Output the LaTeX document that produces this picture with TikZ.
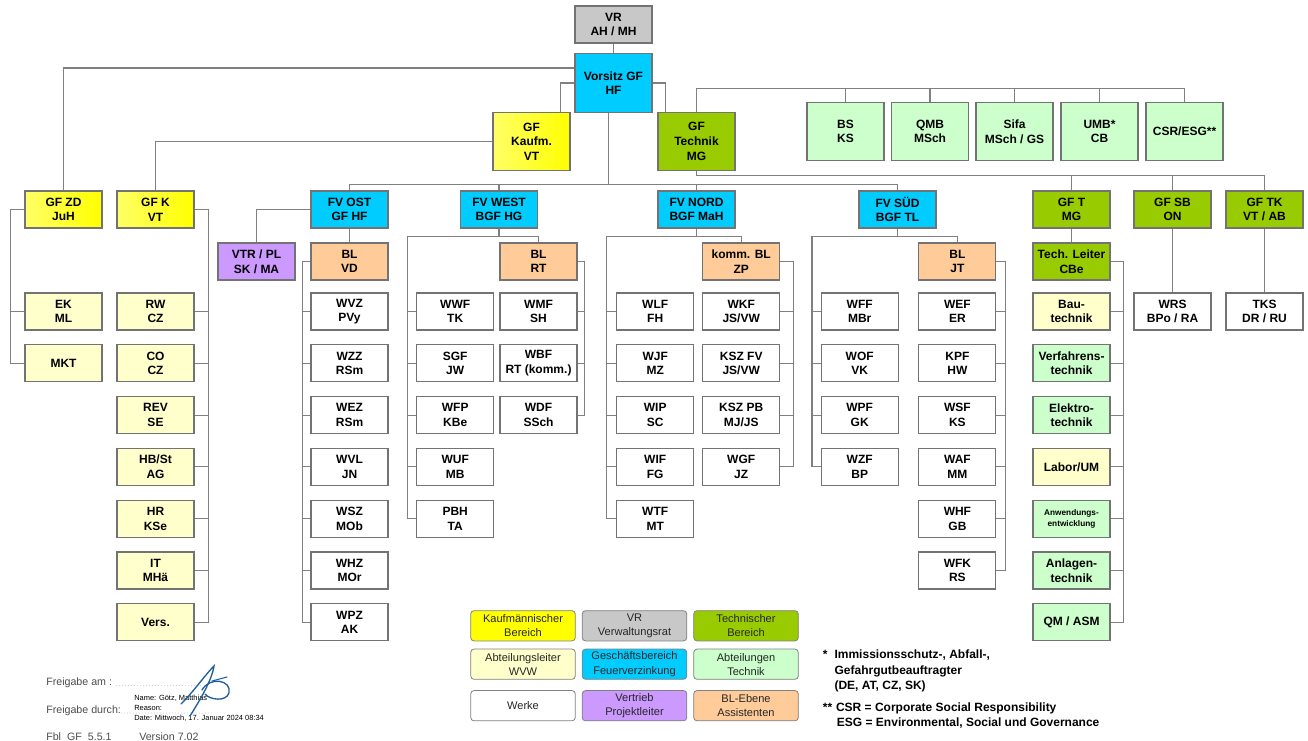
\documentclass[tikz,border=0pt]{standalone}
\usepackage{fontspec}
\setmainfont{Liberation Sans}
\usepackage{xcolor}
\usepackage{tikz}
\usetikzlibrary{positioning,calc}
\definecolor{vrgray}{HTML}{C8C8C8}
\definecolor{gfblue}{HTML}{00CCFF}
\definecolor{gfyellow}{HTML}{FFFF00}
\definecolor{gfgreen}{HTML}{99CC00}
\definecolor{abtgreen}{HTML}{CCFFCC}
\definecolor{abtyellow}{HTML}{FFFFCC}
\definecolor{blpeach}{HTML}{FFCC99}
\definecolor{vtrlila}{HTML}{CC99FF}
\definecolor{linegray}{HTML}{808080}
\definecolor{signblue}{HTML}{1F5F99}

\begin{document}
\begin{tikzpicture}[x=0.75pt,y=-0.75pt,
  box/.style={draw=black!55,line width=0.8pt,minimum width=57.75pt,
    minimum height=27.75pt,inner sep=0pt,align=center,
    font=\fontsize{9}{11}\selectfont\bfseries},
  tall/.style={box,minimum height=43.9pt},
  kfm/.style={left color=gfyellow!60!white,right color=gfyellow},
  link/.style={draw=linegray,line width=0.8pt},
  legend/.style={draw=black!50,line width=0.6pt,rounded corners=2.5pt,
    minimum width=78.4pt,minimum height=22.7pt,inner sep=0pt,align=center,
    font=\fontsize{8.3}{10.7}\selectfont,text=black!85},
  foot/.style={anchor=base west,inner sep=0pt,font=\fontsize{8}{10}\selectfont,text=black!70},
  dotline/.style={draw=black!40,line width=0.6pt,line cap=round,dash pattern=on 0pt off 2.25pt},
  stamp/.style={anchor=base west,inner sep=0pt,font=\fontsize{5.6}{7}\selectfont},
  fnote/.style={anchor=base west,inner sep=0pt,font=\fontsize{9}{11}\selectfont\bfseries}]
  \useasboundingbox (0,0) rectangle (1308,741);

  % Leitung
  \node[box,fill=vrgray] (vr) at (613.5,24.5) {VR\\AH / MH};
  \node[tall,fill=gfblue] (vorsitz) at (613.5,83) {Vorsitz GF\\HF};
  \node[tall,kfm] (gfkfm) at (531.5,141.5) {GF\\Kaufm.\\VT};
  \node[tall,fill=gfgreen] (gftech) at (696.5,141.5) {GF\\Technik\\MG};

  % Stabsstellen Technik
  \node[tall,fill=abtgreen] (bs) at (845.5,131.5) {BS\\KS};
  \node[tall,fill=abtgreen] (qmb) at (930,131.5) {QMB\\MSch};
  \node[tall,fill=abtgreen] (sifa) at (1014.5,131.5) {Sifa\\MSch / GS};
  \node[tall,fill=abtgreen] (umb) at (1099.5,131.5) {UMB*\\CB};
  \node[tall,fill=abtgreen] (csr) at (1184.5,131.5) {CSR/ESG**};

  % Bereiche
  \node[box,kfm] (gfzd) at (63.5,209.5) {GF ZD\\JuH};
  \node[box,kfm] (gfk) at (155.5,209.5) {GF K\\VT};
  \node[box,fill=gfblue] (fvost) at (349.5,209.5) {FV OST\\GF HF};
  \node[box,fill=gfblue] (fvwest) at (499,209.5) {FV WEST\\BGF HG};
  \node[box,fill=gfblue] (fvnord) at (696.5,209.5) {FV NORD\\BGF MaH};
  \node[box,fill=gfblue] (fvsued) at (897.5,209.5) {FV SÜD\\BGF TL};
  \node[box,fill=gfgreen] (gft) at (1071.5,209.5) {GF T\\MG};
  \node[box,fill=gfgreen] (gfsb) at (1172.5,209.5) {GF SB\\ON};
  \node[box,fill=gfgreen] (gftk) at (1264.5,209.5) {GF TK\\VT / AB};

  % BL-Ebene
  \node[box,fill=vtrlila] (vtr) at (256.5,261.5) {VTR / PL\\SK / MA};
  \node[box,fill=blpeach] (blvd) at (349.5,261.5) {BL\\VD};
  \node[box,fill=blpeach] (blrt) at (538.5,261.5) {BL\\RT};
  \node[box,fill=blpeach] (blzp) at (741.2,261.5) {komm. BL\\ZP};
  \node[box,fill=blpeach] (bljt) at (957.4,261.5) {BL\\JT};
  \node[box,fill=gfgreen] (tl) at (1071.5,261.5) {Tech. Leiter\\CBe};

  % Abteilungen und Werke
  \foreach \txt [count=\i] in {{EK\\ML},{MKT}}
    \node[box,fill=abtyellow] (zd\i) at (63.5,{311.5+(\i-1)*51.8}) {\txt};
  \foreach \txt [count=\i] in {{RW\\CZ},{CO\\CZ},{REV\\SE},{HB/St\\AG},{HR\\KSe},{IT\\MHä},{Vers.}}
    \node[box,fill=abtyellow] (k\i) at (155.5,{311.5+(\i-1)*51.8}) {\txt};
  \foreach \txt [count=\i] in {{WVZ\\PVy},{WZZ\\RSm},{WEZ\\RSm},{WVL\\JN},{WSZ\\MOb},{WHZ\\MOr},{WPZ\\AK}}
    \node[box,fill=white] (ost\i) at (349.5,{311.5+(\i-1)*51.8}) {\txt};
  \foreach \txt [count=\i] in {{WWF\\TK},{SGF\\JW},{WFP\\KBe},{WUF\\MB},{PBH\\TA}}
    \node[box,fill=white] (westl\i) at (455.2,{311.5+(\i-1)*51.8}) {\txt};
  \foreach \txt [count=\i] in {{WMF\\SH},{WBF\\RT (komm.)},{WDF\\SSch}}
    \node[box,fill=white] (westr\i) at (538.5,{311.5+(\i-1)*51.8}) {\txt};
  \foreach \txt [count=\i] in {{WLF\\FH},{WJF\\MZ},{WIP\\SC},{WIF\\FG},{WTF\\MT}}
    \node[box,fill=white] (nordl\i) at (655.2,{311.5+(\i-1)*51.8}) {\txt};
  \foreach \txt [count=\i] in {{WKF\\JS/VW},{KSZ FV\\JS/VW},{KSZ PB\\MJ/JS},{WGF\\JZ}}
    \node[box,fill=white] (nordr\i) at (741.2,{311.5+(\i-1)*51.8}) {\txt};
  \foreach \txt [count=\i] in {{WFF\\MBr},{WOF\\VK},{WPF\\GK},{WZF\\BP}}
    \node[box,fill=white] (suedl\i) at (859.7,{311.5+(\i-1)*51.8}) {\txt};
  \foreach \txt [count=\i] in {{WEF\\ER},{KPF\\HW},{WSF\\KS},{WAF\\MM},{WHF\\GB},{WFK\\RS}}
    \node[box,fill=white] (suedr\i) at (957.4,{311.5+(\i-1)*51.8}) {\txt};
  \node[box,fill=abtyellow] (tech1) at (1071.5,311.5) {Bau-\\technik};
  \node[box,fill=abtgreen] (tech2) at (1071.5,363.3) {Verfahrens-\\technik};
  \node[box,fill=abtgreen] (tech3) at (1071.5,415.1) {Elektro-\\technik};
  \node[box,fill=abtyellow] (tech4) at (1071.5,466.9) {Labor/UM};
  \node[box,fill=abtgreen,font=\fontsize{6.2}{8}\selectfont\bfseries] (tech5) at (1071.5,518.7) {Anwendungs-\\entwicklung};
  \node[box,fill=abtgreen] (tech6) at (1071.5,570.5) {Anlagen-\\technik};
  \node[box,fill=abtgreen] (tech7) at (1071.5,622.3) {QM / ASM};
  \node[box,fill=white] (wrs) at (1172.5,311.5) {WRS\\BPo / RA};
  \node[box,fill=white] (tks) at (1264.5,311.5) {TKS\\DR / RU};

  % Verbindungen oben
  \draw[link] (vr) -- (vorsitz);
  \draw[link] ([yshift=11.25pt]vorsitz.west) -| (gfzd.north);
  \draw[link] (vorsitz.west) -| ([xshift=21.4pt]gfkfm.north);
  \draw[link] (vorsitz.east) -| ([xshift=-23.6pt]gftech.north);
  \draw[link] (gfkfm.west) -| (gfk.north);
  \draw[link] (gftech.north) -- ++(0,-23) -| (csr.north);
  \foreach \n in {bs,qmb,sifa,umb}
    \draw[link] (\n.north) -- ++(0,-13);
  \draw[link] ([xshift=-4.1pt]vorsitz.south) -- ++(0,72) coordinate (fvbus);
  \draw[link] (fvost.north) |- (fvbus) -| (fvsued.north);
  \draw[link] (fvwest.north) -- (fvwest.north |- fvbus);
  \draw[link] (fvnord.north) -- (fvnord.north |- fvbus);
  \draw[link] (gftech.south) -- ++(0,4) coordinate (tbus) -| (gftk.north);
  \draw[link] (gft.north) -- (gft.north |- tbus);
  \draw[link] (gfsb.north) -- (gfsb.north |- tbus);

  % Verbindungen Bereiche
  \draw[link] (gfzd.west) -- ++(-14.3,0) |- (zd2.west);
  \draw[link] (zd1.west) -- ++(-14.3,0);
  \draw[link] (gfk.east) -- ++(13.7,0) |- (k7.east);
  \foreach \i in {1,...,6}
    \draw[link] (k\i.east) -- ++(13.7,0);
  \draw[link] (fvost.west) -| (vtr.north);
  \draw[link] (fvost) -- (blvd);
  \draw[link] (blvd.west) -- ++(-8,0) |- (ost7.west);
  \foreach \i in {1,...,6}
    \draw[link] (ost\i.west) -- ++(-8,0);
  \draw[link] (fvwest.south) -- ++(0,7.7) coordinate (wj) -| (blrt.north);
  \draw[link] (wj) -| ($(westl5.west)+(-8.7,0)$) -- (westl5.west);
  \foreach \i in {1,...,4}
    \draw[link] (westl\i.west) -- ++(-8.7,0);
  \draw[link] (blrt.east) -- ++(7.3,0) |- (westr3.east);
  \foreach \i in {1,2}
    \draw[link] (westr\i.east) -- ++(7.3,0);
  \draw[link] (fvnord.south) -- ++(0,7.7) coordinate (nj) -| (blzp.north);
  \draw[link] (nj) -| ($(nordl5.west)+(-10,0)$) -- (nordl5.west);
  \foreach \i in {1,...,4}
    \draw[link] (nordl\i.west) -- ++(-10,0);
  \draw[link] (blzp.east) -- ++(13.6,0) |- (nordr4.east);
  \foreach \i in {1,2,3}
    \draw[link] (nordr\i.east) -- ++(13.6,0);
  \draw[link] (fvsued.south) -- ++(0,7.7) coordinate (sj) -| (bljt.north);
  \draw[link] (sj) -| ($(suedl4.west)+(-8.7,0)$) -- (suedl4.west);
  \foreach \i in {1,2,3}
    \draw[link] (suedl\i.west) -- ++(-8.7,0);
  \draw[link] (bljt.east) -- ++(9,0) |- (suedr6.east);
  \foreach \i in {1,...,5}
    \draw[link] (suedr\i.east) -- ++(9,0);
  \draw[link] (gft) -- (tl);
  \draw[link] (tl.east) -- ++(13.3,0) |- (tech7.east);
  \foreach \i in {1,...,6}
    \draw[link] (tech\i.east) -- ++(13.3,0);
  \draw[link] (gfsb) -- (wrs);
  \draw[link] (gftk) -- (tks);

  % Legende
  \node[legend,fill=gfyellow] (lg11) at (523,625.8) {Kaufmännischer\\Bereich};
  \node[legend,fill=vrgray] (lg12) at (634.5,625.8) {VR\\Verwaltungsrat};
  \node[legend,fill=gfgreen] (lg13) at (746,625.8) {Technischer\\Bereich};
  \node[legend,fill=abtyellow] (lg21) at (523,664.2) {Abteilungsleiter\\WVW};
  \node[legend,fill=gfblue] (lg22) at (634.5,664.2) {Geschäftsbereich\\Feuerverzinkung};
  \node[legend,fill=abtgreen] (lg23) at (746,664.2) {Abteilungen\\Technik};
  \node[legend,fill=white] (lg31) at (523,705.7) {Werke};
  \node[legend,fill=vtrlila] (lg32) at (634.5,705.7) {Vertrieb\\Projektleiter};
  \node[legend,fill=blpeach] (lg33) at (746,705.7) {BL-Ebene\\Assistenten};

  % Fussnoten
  \node[fnote] (fn1a) at (822.7,658.5) {\makebox[8.7pt][l]{*}Immissionsschutz-, Abfall-,};
  \node[fnote] (fn1b) at (834.3,674.5) {Gefahrgutbeauftragter};
  \node[fnote] (fn1c) at (834.3,689) {(DE, AT, CZ, SK)};
  \node[fnote] (fn2a) at (822.7,711.5) {\makebox[9.8pt][l]{**}CSR = Corporate Social Responsibility};
  \node[fnote] (fn2b) at (836.7,726) {ESG = Environmental, Social und Governance};

  % Freigabe
  \node[foot] (frei1) at (46,685.7) {Freigabe am :};
  \node[foot] (frei2) at (46,713) {Freigabe durch:};
  \draw[dotline] ([xshift=3pt]frei1.base east) -- ++(85,0);
  \draw[dotline] ([xshift=0pt]frei2.base east) -- ++(92,0);
  \node[foot] (fbl) at (46,740) {Fbl\hspace{4.5pt}GF\hspace{4.5pt}5.5.1};
  \node[foot] (version) at (139,740) {Version 7.02};
  \node[stamp] (sname) at (134,700) {Name: Götz, Matthias};
  \node[stamp] (sreason) at (134,710.3) {Reason:};
  \node[stamp] (sdate) at (134,720) {Date: Mittwoch, 17. Januar 2024 08:34};
  \draw[signblue,line width=1pt,line cap=round]
    (181,704) .. controls (195,690) and (205,675) .. (214,666)
    .. controls (212,680) and (200,700) .. (190,716);
  \draw[signblue,line width=1pt,line cap=round]
    (202,690) .. controls (210,676) and (232,680) .. (229,693)
    .. controls (226,702) and (210,700) .. (205,694);
  \draw[signblue,line width=0.8pt,line cap=round] (212,681) -- (227,677);
\end{tikzpicture}
\end{document}
